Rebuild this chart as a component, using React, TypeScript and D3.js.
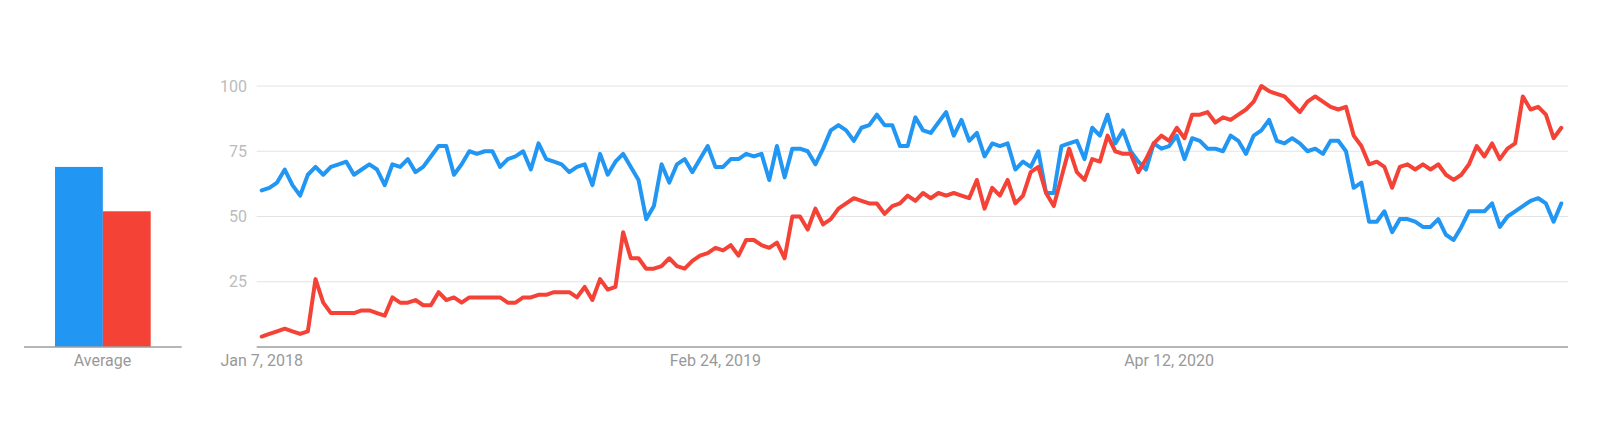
import React from 'react';
import * as d3 from 'd3';

// weekly search interest, first week Jan 7, 2018
const blueValues = [
  60, 61, 63, 68, 62, 58, 66, 69, 66, 69, 70, 71, 66, 68, 70, 68, 62, 70, 69, 72,
  67, 69, 73, 77, 77, 66, 70, 75, 74, 75, 75, 69, 72, 73, 75, 68, 78, 72, 71, 70,
  67, 69, 70, 62, 74, 66, 71, 74, 69, 64, 49, 54, 70, 63, 70, 72, 67, 72, 77, 69,
  69, 72, 72, 74, 73, 74, 64, 77, 65, 76, 76, 75, 70, 76, 83, 85, 83, 79, 84, 85,
  89, 85, 85, 77, 77, 88, 83, 82, 86, 90, 81, 87, 79, 82, 73, 78, 77, 78, 68, 71,
  69, 75, 59, 59, 77, 78, 79, 72, 84, 81, 89, 78, 83, 75, 71, 68, 78, 76, 77, 81,
  72, 80, 79, 76, 76, 75, 81, 79, 74, 81, 83, 87, 79, 78, 80, 78, 75, 76, 74, 79,
  79, 75, 61, 63, 48, 48, 52, 44, 49, 49, 48, 46, 46, 49, 43, 41, 46, 52, 52, 52,
  55, 46, 50, 52, 54, 56, 57, 55, 48, 55,
];

const redValues = [
  4, 5, 6, 7, 6, 5, 6, 26, 17, 13, 13, 13, 13, 14, 14, 13, 12, 19, 17, 17,
  18, 16, 16, 21, 18, 19, 17, 19, 19, 19, 19, 19, 17, 17, 19, 19, 20, 20, 21, 21,
  21, 19, 23, 18, 26, 22, 23, 44, 34, 34, 30, 30, 31, 34, 31, 30, 33, 35, 36, 38,
  37, 39, 35, 41, 41, 39, 38, 40, 34, 50, 50, 45, 53, 47, 49, 53, 55, 57, 56, 55,
  55, 51, 54, 55, 58, 56, 59, 57, 59, 58, 59, 58, 57, 64, 53, 61, 58, 64, 55, 58,
  67, 69, 59, 54, 65, 76, 67, 64, 72, 71, 81, 75, 74, 74, 67, 72, 78, 81, 79, 84,
  80, 89, 89, 90, 86, 88, 87, 89, 91, 94, 100, 98, 97, 96, 93, 90, 94, 96, 94, 92,
  91, 92, 81, 77, 70, 71, 69, 61, 69, 70, 68, 70, 68, 70, 66, 64, 66, 70, 77, 73,
  78, 72, 76, 78, 96, 91, 92, 89, 80, 84,
];

const seriesColors = ['#2196f3', '#f44336'];
const averageValues = [69, 52];
const averageLabel = 'Average';
const yTickValues = [25, 50, 75, 100];
const xTickWeeks = [0, 59, 118];

const startDate = new Date(2018, 0, 7);

const App: React.FC = () => {
  const width = 1600;
  const height = 430;

  const dates = blueValues.map((_, i) => d3.timeWeek.offset(startDate, i));

  const xScale = d3.scaleTime()
    .domain([dates[0], dates[dates.length - 1]])
    .range([261.7, 1561.3]);

  const yScale = d3.scaleLinear().domain([0, 100]).range([347, 86]);

  const gridLeft = 256.7;
  const gridRight = 1568;

  const barScale = d3.scaleBand<number>()
    .domain([0, 1])
    .range([55, 150.7])
    .padding(0);

  const line = d3.line<number>()
    .x((_, i) => xScale(dates[i]))
    .y(d => yScale(d))
    .curve(d3.curveLinear);

  const fmt = d3.timeFormat('%b %-d, %Y');
  const font = 'Roboto, "Noto Sans", sans-serif';

  return (
    <svg
      width={width}
      height={height}
      style={{ position: 'absolute', left: 0, top: 0, background: '#fff' }}
      fontFamily={font}
    >
      {/* average bars */}
      <g>
        {averageValues.map((v, i) => (
          <rect
            key={i}
            x={barScale(i)}
            y={yScale(v)}
            width={barScale.bandwidth()}
            height={yScale(0) - yScale(v)}
            fill={seriesColors[i]}
          />
        ))}
        <line x1={24} x2={181.7} y1={yScale(0)} y2={yScale(0)} stroke="#9e9e9e" strokeWidth={1.5} />
        <text x={102.5} y={366} textAnchor="middle" fontSize={16} fill="#999">
          {averageLabel}
        </text>
      </g>

      {/* grid + y ticks */}
      <g>
        {yTickValues.map(t => (
          <g key={t}>
            <line x1={gridLeft} x2={gridRight} y1={yScale(t)} y2={yScale(t)} stroke="#e3e3e3" strokeWidth={1} />
            <text x={247} y={yScale(t)} dy="0.35em" textAnchor="end" fontSize={16} fill="#bcbcbc">
              {t}
            </text>
          </g>
        ))}
        <line x1={gridLeft} x2={gridRight} y1={yScale(0)} y2={yScale(0)} stroke="#9e9e9e" strokeWidth={1.5} />
      </g>

      {/* x ticks */}
      <g>
        {xTickWeeks.map(w => (
          <text
            key={w}
            x={xScale(dates[w])}
            y={366}
            textAnchor="middle"
            fontSize={16}
            fill="#999"
          >
            {fmt(dates[w])}
          </text>
        ))}
      </g>

      {/* lines */}
      {[blueValues, redValues].map((vals, i) => (
        <path
          key={i}
          d={line(vals) || ''}
          fill="none"
          stroke={seriesColors[i]}
          strokeWidth={4}
          strokeLinejoin="round"
          strokeLinecap="round"
        />
      ))}
    </svg>
  );
};

export default App;
